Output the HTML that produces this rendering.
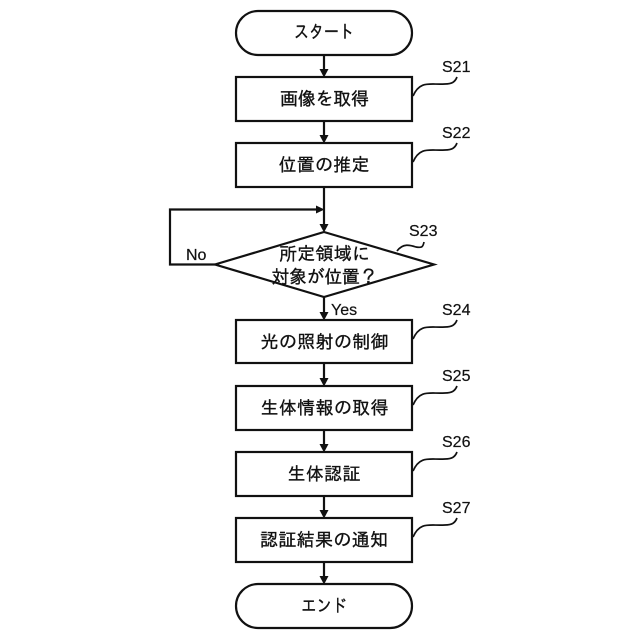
<!DOCTYPE html>
<html>
<head>
<meta charset="utf-8">
<style>
html,body{margin:0;padding:0;background:#fff;width:640px;height:640px;overflow:hidden}
svg{display:block}
text{font-family:"Liberation Sans","IPAGothic","Noto Sans CJK JP",sans-serif;fill:#111}
.j{font-size:18px;text-anchor:middle;stroke:#111;stroke-width:.35}
.s{font-size:16px;stroke:#111;stroke-width:.2}
.n{fill:none;stroke:#111;stroke-width:1.7}
.b{fill:#fff;stroke:#111;stroke-width:2.2}
.l{fill:none;stroke:#111;stroke-width:2.2}
.a{fill:#111;stroke:none}
</style>
</head>
<body>
<svg width="640" height="640" viewBox="0 0 640 640" xmlns="http://www.w3.org/2000/svg">
<!-- connectors -->
<path class="l" d="M324 55V71M324 121V137M324 187V226M324 297V314M324 363V380M324 430V446M324 496V512M324 562V578"/>
<path class="l" d="M215 264.500H170V209.500H318"/>
<path class="a" d="M319.500 69H328.500L324 77.500ZM319.500 135H328.500L324 143.500ZM319.500 224H328.500L324 232.500ZM319.500 312H328.500L324 320.500ZM319.500 378H328.500L324 386.500ZM319.500 444H328.500L324 452.500ZM319.500 510H328.500L324 518.500ZM319.500 576H328.500L324 584.500ZM316 205.500V213.500L324.500 209.500Z"/>
<!-- nodes -->
<rect class="b" x="236" y="11" width="176" height="44" rx="22"/>
<rect class="b" x="236" y="77" width="176" height="44"/>
<rect class="b" x="236" y="143" width="176" height="44"/>
<path class="b" d="M324 232L434 264.500L324 297L215 264.500Z"/>
<rect class="b" x="236" y="320" width="176" height="43"/>
<rect class="b" x="236" y="386" width="176" height="44"/>
<rect class="b" x="236" y="452" width="176" height="44"/>
<rect class="b" x="236" y="518" width="176" height="44"/>
<rect class="b" x="236" y="584" width="176" height="44" rx="22"/>
<!-- node text -->
<text class="j" x="324" y="38" textLength="60" lengthAdjust="spacingAndGlyphs">スタート</text>
<text class="j" x="324.500" y="105" textLength="89">画像を取得</text>
<text class="j" x="324" y="171" textLength="91">位置の推定</text>
<text class="j" x="324.500" y="260" textLength="91">所定領域に</text>
<text class="j" x="324.500" y="283" textLength="106">対象が位置？</text>
<text class="j" x="324.500" y="348" textLength="128">光の照射の制御</text>
<text class="j" x="324.500" y="414" textLength="128">生体情報の取得</text>
<text class="j" x="324" y="480" textLength="73">生体認証</text>
<text class="j" x="324" y="546" textLength="128">認証結果の通知</text>
<text class="j" x="324" y="612" textLength="46" lengthAdjust="spacingAndGlyphs">エンド</text>
<!-- edge labels -->
<text class="s" x="186" y="260">No</text>
<text class="s" x="331" y="315">Yes</text>
<!-- step labels -->
<text class="s" x="442" y="72">S21</text>
<text class="s" x="442" y="138">S22</text>
<text class="s" x="409" y="236">S23</text>
<text class="s" x="442" y="315">S24</text>
<text class="s" x="442" y="381">S25</text>
<text class="s" x="442" y="447">S26</text>
<text class="s" x="442" y="513">S27</text>
<!-- leader curves -->
<path class="n" d="M413 96C420 80 430 85 445 84C452 84 455 82 457 77"/>
<path class="n" d="M413 162C420 146 430 151 445 150C452 150 455 148 457 143"/>
<path class="n" d="M397 251C403 243 410 245 416 247C422 248 423 247 424 242"/>
<path class="n" d="M413 339C420 323 430 328 445 327C452 327 455 325 457 320"/>
<path class="n" d="M413 405C420 389 430 394 445 393C452 393 455 391 457 386"/>
<path class="n" d="M413 471C420 455 430 460 445 459C452 459 455 457 457 452"/>
<path class="n" d="M413 537C420 521 430 526 445 525C452 525 455 523 457 518"/>
</svg>
</body>
</html>
